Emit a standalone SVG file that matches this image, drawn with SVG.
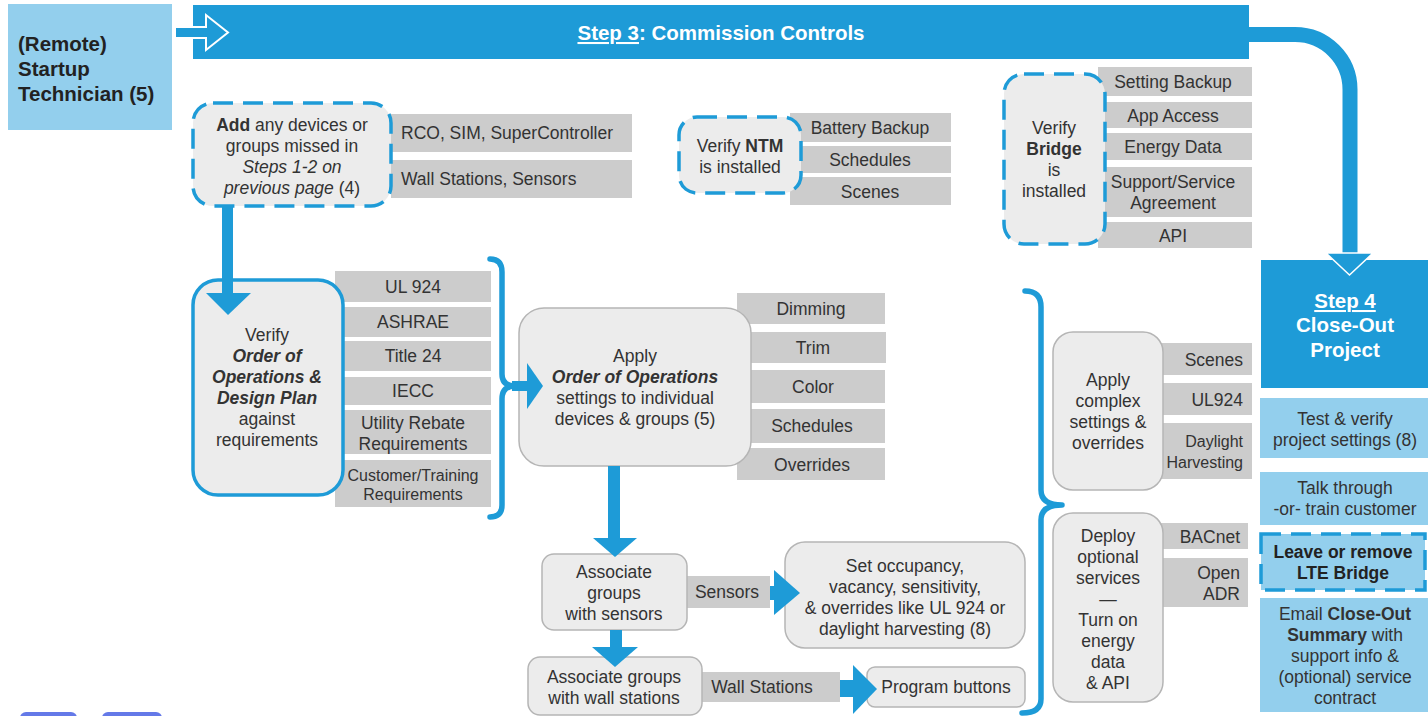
<svg xmlns="http://www.w3.org/2000/svg" width="1428" height="716" viewBox="0 0 1428 716">
<style>
text{font-family:"Liberation Sans",Arial,sans-serif;font-size:17.5px;fill:#333;text-anchor:middle}
.l{text-anchor:start}
.r{text-anchor:end}
.b{font-weight:bold}
.bi{font-weight:bold;font-style:italic}
.i{font-style:italic}
.w{fill:#fff}
.hd{font-size:20.5px;font-weight:bold}
.sm{font-size:16px}
.gray{fill:#cccccc}
.node{fill:#ececec;stroke:#b5b5b5;stroke-width:1.5}
.nodeB{fill:#ececec;stroke:#1e9bd7;stroke-width:3.5}
.dash{fill:#ececec;stroke:#1e9bd7;stroke-width:3.5;stroke-dasharray:20 10}
.lb{fill:#93cfed}
.blue{fill:#1e9bd7}
.arr{fill:#1e9bd7}
.brace{fill:none;stroke:#1e9bd7;stroke-width:5.5;stroke-linejoin:round;stroke-linecap:round}
</style>

<g id="step3-bar">
<rect x="193" y="5" width="1056" height="54" class="blue"/>
<text x="721" y="40" class="hd w"><tspan text-decoration="underline">Step 3</tspan>: Commission Controls</text>
</g>

<g id="technician">
<rect x="8" y="4" width="164" height="126" class="lb"/>
<text x="18" y="51" class="hd l" style="fill:#222">(Remote)</text>
<text x="18" y="76" class="hd l" style="fill:#222">Startup</text>
<text x="18" y="101" class="hd l" style="fill:#222">Technician (5)</text>
</g>

<g id="add-devices">
<rect x="391" y="114" width="241" height="38" class="gray"/>
<rect x="391" y="160" width="241" height="38" class="gray"/>
<text x="401" y="139" class="l">RCO, SIM, SuperController</text>
<text x="401" y="185" class="l">Wall Stations, Sensors</text>
<rect x="193" y="103" width="198" height="103" rx="20" class="dash"/>
<text x="292" y="131"><tspan class="b">Add</tspan> any devices or</text>
<text x="292" y="152">groups missed in</text>
<text x="292" y="173" class="i">Steps 1-2 on</text>
<text x="292" y="194"><tspan class="i">previous page</tspan> (4)</text>
</g>

<g id="verify-ntm">
<rect x="790" y="113" width="161" height="29" class="gray"/>
<rect x="790" y="146" width="161" height="27" class="gray"/>
<rect x="790" y="177" width="161" height="28" class="gray"/>
<text x="870" y="134">Battery Backup</text>
<text x="870" y="166">Schedules</text>
<text x="870" y="198">Scenes</text>
<rect x="679" y="117" width="122" height="76" rx="18" class="dash"/>
<text x="740" y="152">Verify <tspan class="b">NTM</tspan></text>
<text x="740" y="173">is installed</text>
</g>

<g id="verify-bridge">
<rect x="1098" y="67" width="154" height="29" class="gray"/>
<rect x="1098" y="102" width="154" height="26" class="gray"/>
<rect x="1098" y="133" width="154" height="27" class="gray"/>
<rect x="1098" y="167" width="154" height="50" class="gray"/>
<rect x="1098" y="222" width="154" height="26" class="gray"/>
<text x="1173" y="88">Setting Backup</text>
<text x="1173" y="122">App Access</text>
<text x="1173" y="153">Energy Data</text>
<text x="1173" y="188">Support/Service</text>
<text x="1173" y="209">Agreement</text>
<text x="1173" y="242">API</text>
<rect x="1004" y="74" width="101" height="170" rx="20" class="dash"/>
<text x="1054" y="134">Verify</text>
<text x="1054" y="155" class="b">Bridge</text>
<text x="1054" y="176">is</text>
<text x="1054" y="197">installed</text>
</g>

<g id="verify-order">
<rect x="335" y="271" width="156" height="31" class="gray"/>
<rect x="335" y="307" width="156" height="30" class="gray"/>
<rect x="335" y="341" width="156" height="30" class="gray"/>
<rect x="335" y="377" width="156" height="28" class="gray"/>
<rect x="335" y="410" width="156" height="44" class="gray"/>
<rect x="335" y="460" width="156" height="47" class="gray"/>
<text x="413" y="293">UL 924</text>
<text x="413" y="328">ASHRAE</text>
<text x="413" y="362">Title 24</text>
<text x="413" y="397">IECC</text>
<text x="413" y="429">Utility Rebate</text>
<text x="413" y="450">Requirements</text>
<text x="413" y="481" class="sm">Customer/Training</text>
<text x="413" y="500" class="sm">Requirements</text>
<rect x="193" y="280" width="150" height="215" rx="25" class="nodeB"/>
<text x="267" y="341">Verify</text>
<text x="267" y="362" class="bi">Order of</text>
<text x="267" y="383" class="bi">Operations &amp;</text>
<text x="267" y="404" class="bi">Design Plan</text>
<text x="267" y="425">against</text>
<text x="267" y="446">requirements</text>
</g>

<g id="apply-order">
<rect x="737" y="293" width="148" height="31" class="gray"/>
<rect x="737" y="332" width="149" height="31" class="gray"/>
<rect x="737" y="370" width="148" height="33" class="gray"/>
<rect x="737" y="409" width="148" height="34" class="gray"/>
<rect x="737" y="448" width="148" height="32" class="gray"/>
<text x="811" y="315">Dimming</text>
<text x="813" y="354">Trim</text>
<text x="813" y="393">Color</text>
<text x="812" y="432">Schedules</text>
<text x="812" y="471">Overrides</text>
<rect x="519" y="308" width="232" height="158" rx="25" class="node"/>
<text x="635" y="362">Apply</text>
<text x="635" y="383" class="bi">Order of Operations</text>
<text x="635" y="404">settings to individual</text>
<text x="635" y="425">devices &amp; groups (5)</text>
</g>

<g id="assoc-sensors">
<rect x="685" y="576" width="85" height="32" class="gray"/>
<text x="727" y="598">Sensors</text>
<rect x="542" y="554" width="145" height="76" rx="12" class="node"/>
<text x="614" y="578">Associate</text>
<text x="614" y="599">groups</text>
<text x="614" y="620">with sensors</text>
</g>

<g id="set-occupancy">
<rect x="785" y="542" width="240" height="106" rx="20" class="node"/>
<text x="905" y="572">Set occupancy,</text>
<text x="905" y="593">vacancy, sensitivity,</text>
<text x="905" y="614">&amp; overrides like UL 924 or</text>
<text x="905" y="635">daylight harvesting (8)</text>
</g>

<g id="assoc-wall">
<rect x="702" y="672" width="138" height="30" class="gray"/>
<text x="762" y="693">Wall Stations</text>
<rect x="528" y="657" width="174" height="58" rx="12" class="node"/>
<text x="614" y="683">Associate groups</text>
<text x="614" y="704">with wall stations</text>
</g>

<g id="program-buttons">
<rect x="867" y="667" width="158" height="40" rx="8" class="node"/>
<text x="946" y="693">Program buttons</text>
</g>

<g id="apply-complex">
<rect x="1160" y="343" width="92" height="32" class="gray"/>
<rect x="1160" y="383" width="92" height="32" class="gray"/>
<rect x="1160" y="423" width="92" height="56" class="gray"/>
<text x="1243" y="366" class="r">Scenes</text>
<text x="1243" y="406" class="r">UL924</text>
<text x="1243" y="447" class="r sm">Daylight</text>
<text x="1243" y="468" class="r sm">Harvesting</text>
<rect x="1053" y="332" width="110" height="158" rx="20" class="node"/>
<text x="1108" y="386">Apply</text>
<text x="1108" y="407">complex</text>
<text x="1108" y="428">settings &amp;</text>
<text x="1108" y="449">overrides</text>
</g>

<g id="deploy-services">
<rect x="1160" y="523" width="88" height="26" class="gray"/>
<rect x="1160" y="558" width="88" height="49" class="gray"/>
<text x="1240" y="543" class="r">BACnet</text>
<text x="1240" y="579" class="r">Open</text>
<text x="1240" y="600" class="r">ADR</text>
<rect x="1053" y="513" width="110" height="189" rx="20" class="node"/>
<text x="1108" y="542">Deploy</text>
<text x="1108" y="563">optional</text>
<text x="1108" y="584">services</text>
<text x="1108" y="605">—</text>
<text x="1108" y="626">Turn on</text>
<text x="1108" y="647">energy</text>
<text x="1108" y="668">data</text>
<text x="1108" y="689">&amp; API</text>
</g>

<g id="step4">
<rect x="1261" y="260" width="167" height="128" class="blue"/>
<text x="1345" y="308" class="hd w"><tspan text-decoration="underline">Step 4</tspan></text>
<text x="1345" y="332" class="hd w">Close-Out</text>
<text x="1345" y="357" class="hd w">Project</text>
</g>

<g id="test-verify">
<rect x="1260" y="398" width="168" height="60" class="lb"/>
<text x="1345" y="425">Test &amp; verify</text>
<text x="1345" y="446">project settings (8)</text>
</g>

<g id="talk-through">
<rect x="1260" y="472" width="168" height="53" class="lb"/>
<text x="1345" y="494">Talk through</text>
<text x="1345" y="515">-or- train customer</text>
</g>

<g id="lte-bridge">
<rect x="1261" y="534" width="164" height="56" fill="#93cfed" stroke="#1e9bd7" stroke-width="3.5" stroke-dasharray="20 10"/>
<text x="1343" y="558" class="b" style="fill:#222">Leave or remove</text>
<text x="1343" y="579" class="b" style="fill:#222">LTE Bridge</text>
</g>

<g id="email-summary">
<rect x="1260" y="598" width="168" height="114" class="lb"/>
<text x="1345" y="620">Email <tspan class="b">Close-Out</tspan></text>
<text x="1345" y="641"><tspan class="b">Summary</tspan> with</text>
<text x="1345" y="662">support info &amp;</text>
<text x="1345" y="683">(optional) service</text>
<text x="1345" y="704">contract</text>
</g>

<g id="connectors">
<polygon points="175,27 206,27 206,15 228,32.5 206,50 206,38 175,38" class="arr" stroke="#fff" stroke-width="2"/>
<path d="M1249,34.5 H1295 A55,55 0 0 1 1350,89.5 V256" fill="none" stroke="#1e9bd7" stroke-width="15"/>
<polygon points="1326,253 1373,253 1349.5,275" class="arr" stroke="#fff" stroke-width="1.5"/>
<rect x="222" y="206" width="11" height="88" class="arr"/>
<polygon points="206,293 251,293 228,315" class="arr"/>
<path d="M490,259 Q502,259 502,272 V374 Q502,386 515,386 Q502,386 502,399 V505 Q502,517 490,517" class="brace"/>
<rect x="512" y="381" width="17" height="10" class="arr"/>
<polygon points="527,363 543,386 527,409" class="arr"/>
<rect x="608" y="466" width="12" height="73" class="arr"/>
<polygon points="593,538 637,538 615,557" class="arr"/>
<rect x="610" y="630" width="12" height="18" class="arr"/>
<polygon points="592,647 638,647 615,667" class="arr"/>
<rect x="770" y="586" width="5" height="14" class="arr"/>
<polygon points="774,570 800,593 774,615" class="arr"/>
<rect x="840" y="680" width="15" height="17" class="arr"/>
<polygon points="853,665 877,689 853,714" class="arr"/>
<path d="M1025,291 Q1041,291 1041,307 V490 Q1041,505 1062,505 Q1041,505 1041,520 V699 Q1041,713 1022,713" class="brace"/>
</g>

<g id="bottom-tabs">
<rect x="20" y="712" width="57" height="12" rx="6" fill="#6479e8"/>
<rect x="102" y="712" width="60" height="12" rx="6" fill="#6479e8"/>
</g>
</svg>
